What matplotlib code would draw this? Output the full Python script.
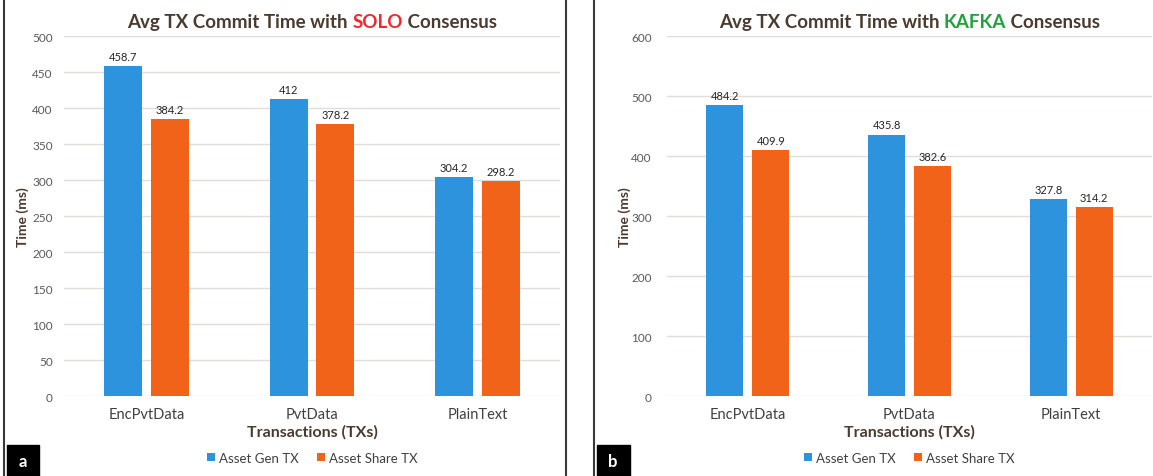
import matplotlib.pyplot as plt
from matplotlib.patches import Rectangle
import numpy as np

plt.rcParams['font.family'] = ['Lato', 'DejaVu Sans']

categorias = ['EncPvtData', 'PvtData', 'PlainText']
series = ['Asset Gen TX', 'Asset Share TX']
solo_gen = [458.7, 412, 304.2]
solo_share = [384.2, 378.2, 298.2]
kafka_gen = [484.2, 435.8, 327.8]
kafka_share = [409.9, 382.6, 314.2]

azul = '#2E93DD'
naranja = '#F16319'
cafe = '#4B3A2F'
gris = '#595959'

fig = plt.figure(figsize=(11.53, 4.77), dpi=100)


def panel(rect, gen, share, ymax, paso, nombre, color_nombre, letra, x0, x1,
          pad_y, ylab_x):
    ax = fig.add_axes(rect)
    x = np.arange(len(categorias))
    w = 0.23
    b1 = ax.bar(x - 0.142, gen, w, color=azul, label=series[0])
    b2 = ax.bar(x + 0.142, share, w, color=naranja, label=series[1])
    for barras in (b1, b2):
        ax.bar_label(barras, labels=[f'{v:g}' for v in barras.datavalues],
                     padding=3, fontsize=8, color='#262626')
    ax.set_ylim(0, ymax)
    ax.set_xlim(-0.5, 2.5)
    ax.set_yticks(np.arange(0, ymax + 1, paso))
    ax.yaxis.grid(True, color='#e3ddd8', linewidth=1)
    ax.set_axisbelow(True)
    for s in ax.spines.values():
        s.set_visible(False)
    ax.tick_params(axis='both', length=0, colors=gris)
    ax.tick_params(axis='y', labelsize=8.5, pad=pad_y)
    ax.tick_params(axis='x', labelsize=10.5, pad=8)
    ax.set_xticks(x)
    ax.set_xticklabels(categorias, color='#404040')
    ax.set_xlabel('Transactions (TXs)', fontsize=11.5, fontweight='bold',
                  color=cafe, labelpad=2)
    ax.set_ylabel('Time (ms)', fontsize=10, fontweight='bold', color=cafe)
    ax.yaxis.set_label_coords(ylab_x, 0.5)
    ax.legend(loc='center', bbox_to_anchor=(0.5, -0.172), ncol=2,
              frameon=False, fontsize=9.5, handlelength=0.6, handleheight=0.6,
              columnspacing=1.4, handletextpad=0.3, labelcolor='#404040')

    # titulo en tres partes
    partes = [('Avg TX Commit Time with ', cafe), (nombre, color_nombre),
              (' Consensus', cafe)]
    r = fig.canvas.get_renderer()
    textos = []
    for t, c in partes:
        textos.append(fig.text(0, 0.952, t, fontsize=13.5, fontweight='bold',
                               color=c, va='center'))
    anchos = [tx.get_window_extent(r).width for tx in textos]
    cx = (rect[0] + rect[2] / 2) * fig.bbox.width
    xp = cx - sum(anchos) / 2
    for tx, a in zip(textos, anchos):
        tx.set_x(xp / fig.bbox.width)
        xp += a

    # recuadro del panel y letra
    fig.patches.append(Rectangle((x0 / 1153, -0.01), (x1 - x0) / 1153, 1.02,
                                 transform=fig.transFigure, fill=False,
                                 edgecolor='#3a3a3a', linewidth=1.5))
    fig.patches.append(Rectangle(((x0 + 3) / 1153, 0), 33 / 1153, 31 / 477,
                                 transform=fig.transFigure, color='black'))
    fig.text((x0 + 19.5) / 1153, 15 / 477, letra, color='white', fontsize=12,
             fontweight='bold', ha='center', va='center')
    return ax


panel([64 / 1153, 0.1677, 496 / 1153, 0.7547], solo_gen, solo_share, 500, 50,
      'SOLO', '#F0282D', 'a', 3.5, 565.5, 8, -0.071)
panel([667 / 1153, 0.1677, 485 / 1153, 0.7547], kafka_gen, kafka_share, 600,
      100, 'KAFKA', '#1FA33A', 'b', 593.5, 1160, 11, -0.075)

fig.savefig('out.png', dpi=100)
